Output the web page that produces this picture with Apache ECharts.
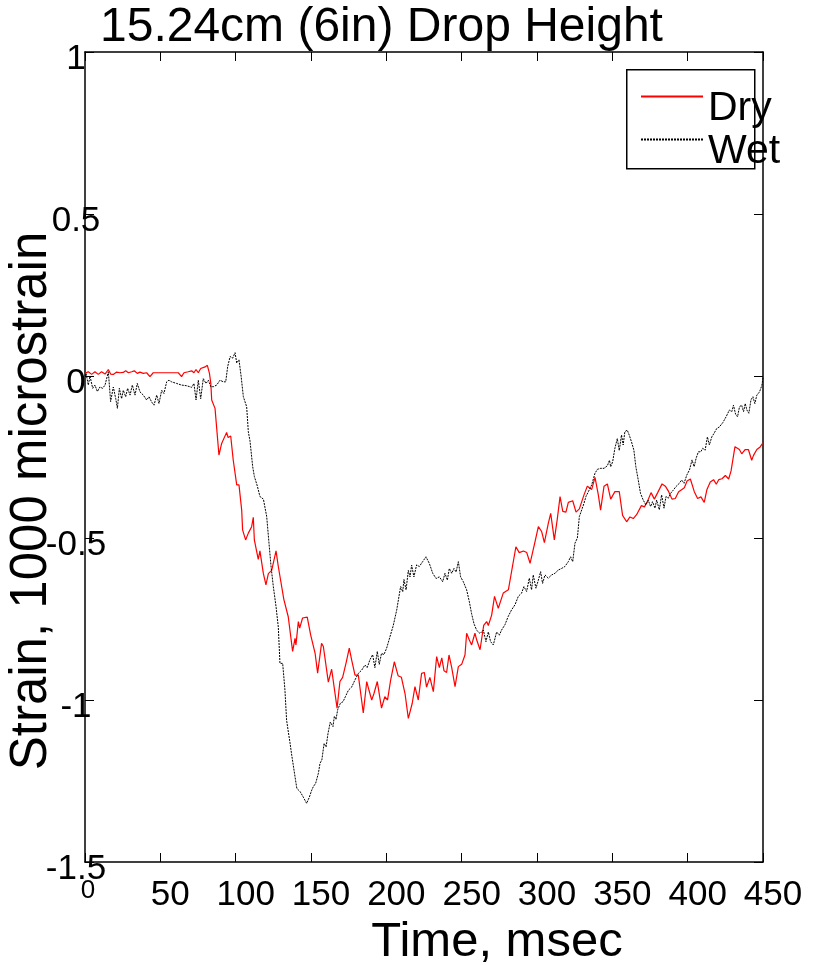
<!DOCTYPE html>
<html>
<head>
<meta charset="utf-8">
<script src="https://cdn.jsdelivr.net/npm/echarts@6/dist/echarts.min.js"></script>
<style>
  html, body { margin: 0; padding: 0; background: #fff; }
  #chart { width: 814px; height: 965px; }
</style>
</head>
<body>
<div id="chart"></div>
<script>
// Strain records (1000 microstrain) against time (msec) for the 15.24 cm drop.
const dryTime = [0, 2.2, 4.4, 6.6, 8.8, 11, 13.3, 15.5, 17, 18.8, 21, 23.2, 25.4, 27, 28.8, 31, 32.7, 34.7, 36.5, 38.7, 40.9, 43.1, 45.3, 49.8, 54.2, 58.6, 61.9, 64.1, 65.7, 68.5, 70.8, 72.3, 73.7, 75.2, 76.8, 78.1, 79.7, 81.2, 82.6, 83.5, 84.1, 86.3, 88.9, 90.7, 94, 95, 96.7, 98.4, 100.7, 102.2, 104, 104.6, 106.6, 108.4, 109.5, 110.6, 111.7, 112.4, 115, 116.1, 118.4, 120.1, 121.7, 123.9, 126.8, 128.3, 130, 132, 134.9, 137.8, 139.4, 140, 141.6, 142.5, 144.4, 147.5, 149.8, 152.7, 154.4, 157, 158.2, 161.5, 163.7, 167.3, 169.2, 171, 173.4, 175.4, 177, 179.2, 181.4, 184.7, 187, 188.5, 190.3, 191.8, 194, 196.8, 199, 200.8, 202.8, 205.3, 207.8, 210, 212.4, 214.6, 217.2, 219, 221.2, 223.4, 225.2, 226.7, 228.9, 231.2, 233.4, 235.2, 236.8, 238.3, 240, 241.6, 243.4, 245.6, 247.8, 250, 252.2, 253.3, 255.1, 256.6, 258.8, 260, 262.2, 264.6, 266.6, 267.7, 269.9, 271.8, 274.3, 277.6, 281, 286, 288.2, 291, 293.2, 295.4, 298.7, 300.9, 303.1, 304.9, 307.5, 309.1, 311.5, 313.5, 315.3, 317.1, 319.2, 320.8, 323.7, 325.9, 328.1, 331.2, 333.4, 336.3, 338.5, 340.7, 342.2, 344.5, 346.7, 348.9, 350.2, 351.7, 354.6, 356.8, 359.5, 361.7, 363.9, 366.1, 369.3, 371.3, 373.5, 375.7, 377.9, 380.1, 383, 385.2, 387.4, 389.6, 391.8, 394, 396.2, 397.8, 399.6, 401.8, 404.4, 406.6, 408.8, 411, 412.8, 415, 417.2, 419, 420.6, 422.8, 425, 427.2, 428.8, 431.4, 434.3, 435.9, 438.1, 440.3, 442.5, 443.7, 445.9, 448.1, 450];
const dryStrain = [0.008, 0.013, 0.005, 0.013, 0.005, 0.013, 0.006, 0.02, 0.006, 0.005, 0.012, 0.01, 0.011, 0.016, 0.01, 0.013, 0.016, 0.008, 0.012, 0.008, 0.01, -0.002, 0.01, 0.01, 0.01, 0.01, 0.01, -0.002, 0.01, 0.013, 0.016, 0.01, 0.02, 0.01, 0.023, 0.018, 0.028, 0.033, 0.008, -0.023, -0.074, -0.1, -0.244, -0.208, -0.174, -0.19, -0.185, -0.26, -0.336, -0.336, -0.414, -0.475, -0.506, -0.485, -0.49, -0.465, -0.436, -0.506, -0.566, -0.54, -0.61, -0.645, -0.61, -0.6, -0.54, -0.588, -0.635, -0.69, -0.743, -0.85, -0.81, -0.83, -0.758, -0.778, -0.747, -0.744, -0.8, -0.855, -0.917, -0.825, -0.835, -0.945, -0.905, -1.025, -0.943, -0.93, -0.883, -0.84, -0.877, -0.923, -0.923, -1.04, -0.943, -0.97, -1.0, -0.98, -0.943, -1.025, -0.99, -1.0, -0.94, -0.882, -0.925, -0.93, -0.98, -1.057, -1.01, -0.959, -1.0, -0.918, -0.915, -0.96, -0.93, -0.974, -0.866, -0.9, -0.87, -0.91, -0.915, -0.861, -0.9, -0.959, -0.897, -0.89, -0.861, -0.794, -0.815, -0.83, -0.794, -0.815, -0.845, -0.77, -0.758, -0.77, -0.738, -0.68, -0.717, -0.67, -0.66, -0.527, -0.545, -0.54, -0.545, -0.578, -0.511, -0.465, -0.48, -0.514, -0.455, -0.424, -0.506, -0.44, -0.372, -0.418, -0.42, -0.39, -0.385, -0.42, -0.41, -0.367, -0.34, -0.35, -0.313, -0.367, -0.414, -0.34, -0.333, -0.38, -0.38, -0.357, -0.357, -0.43, -0.45, -0.435, -0.44, -0.428, -0.4, -0.404, -0.385, -0.36, -0.38, -0.36, -0.333, -0.34, -0.357, -0.38, -0.378, -0.357, -0.35, -0.345, -0.324, -0.318, -0.357, -0.378, -0.373, -0.39, -0.35, -0.327, -0.32, -0.334, -0.32, -0.317, -0.307, -0.318, -0.293, -0.218, -0.227, -0.24, -0.227, -0.227, -0.26, -0.245, -0.227, -0.219, -0.206];

const wetTime = [0, 0.7, 2.2, 3.3, 5.1, 6.6, 8.2, 9.9, 11.7, 13.3, 15.5, 17, 18.8, 20.4, 21.5, 22.8, 24.3, 25.4, 27, 28.3, 29.9, 31.4, 33.2, 34.7, 36.5, 38.7, 40.9, 42.5, 44.2, 45.8, 47.6, 49.1, 50.9, 52.4, 54.2, 55.7, 57.5, 60.8, 64.1, 67.4, 70.8, 72.3, 73.7, 75.2, 76.8, 78.5, 80.3, 81.9, 83.5, 85.2, 87.4, 89.6, 91.8, 93.4, 94.7, 96.3, 98, 99.6, 100.7, 102.2, 103.6, 105.1, 107.3, 108.4, 109.5, 111.3, 112.4, 114.4, 116.1, 118.4, 120.6, 122.1, 123.5, 125, 126.8, 128.3, 129.4, 131.2, 132.7, 133.8, 135, 136, 137.2, 139.4, 140.6, 142.8, 144.9, 147.1, 148.9, 150.5, 151.6, 153.1, 154.9, 156, 157.2, 158.7, 160, 161.3, 162.8, 164.6, 165.5, 166.6, 167.7, 169.5, 171.3, 172.8, 174.8, 177, 179.2, 181.4, 183.6, 185.8, 187.3, 189.1, 190.9, 192.4, 194, 195.3, 196.8, 198.4, 200.2, 202.4, 204.6, 206.9, 208.4, 209.5, 210.9, 211.7, 213.1, 214.6, 215.7, 216.8, 218.3, 220.1, 221.9, 224.1, 226.3, 228.5, 230.8, 233, 235.2, 237.4, 238.9, 240.5, 241.8, 243.4, 244.9, 246.3, 247.8, 249.3, 251.1, 253.3, 255.1, 256.6, 258.2, 260, 262.2, 264.4, 266.1, 267.7, 269.2, 271, 273.2, 275, 276.5, 278.7, 280.9, 283.1, 285.4, 287.6, 289.8, 291.3, 293.1, 294.9, 296.4, 297.5, 299.3, 300.9, 302.4, 303.7, 305.3, 307.5, 309.7, 311.9, 314.1, 316.3, 318.5, 320.8, 322.3, 323.7, 325.2, 326.8, 328.1, 329.7, 331.2, 332.5, 334.1, 336.3, 338.5, 340.1, 342.3, 344.5, 346.7, 348.1, 348.9, 350.2, 351.7, 353.3, 354.6, 356.1, 357.2, 358.3, 359.9, 361.2, 362.7, 364.3, 365.6, 367.2, 368.7, 370.5, 372.3, 373.8, 375.4, 376.7, 378.3, 379.4, 381.2, 382.7, 384.3, 385.6, 387.2, 388.7, 390.5, 392.3, 394.5, 396, 397.6, 399.4, 401.2, 402.9, 404.3, 405.6, 407.1, 408.7, 410, 411.6, 413.1, 414.4, 416, 417.5, 419.3, 421.1, 423.3, 425.5, 427.7, 429.3, 430.4, 431.8, 433.1, 434.4, 435.8, 437.1, 438.2, 439.3, 440.6, 442, 443.3, 444.6, 445.9, 447.7, 449.3, 450];
const wetStrain = [0, 0.008, -0.028, 0, -0.038, -0.028, -0.048, -0.034, -0.038, -0.028, 0.013, -0.079, -0.034, -0.07, -0.1, -0.038, -0.07, -0.044, -0.064, -0.038, -0.059, -0.028, -0.059, -0.023, -0.049, -0.059, -0.074, -0.064, -0.08, -0.09, -0.059, -0.085, -0.044, -0.054, -0.018, -0.013, -0.018, -0.023, -0.028, -0.03, -0.035, -0.023, -0.074, -0.013, -0.07, -0.008, -0.023, -0.013, -0.033, -0.033, -0.028, -0.013, -0.018, -0.018, 0.029, 0.06, 0.055, 0.072, 0.04, 0.05, 0.0, -0.064, -0.095, -0.172, -0.2, -0.28, -0.31, -0.34, -0.372, -0.38, -0.434, -0.515, -0.589, -0.65, -0.712, -0.775, -0.887, -0.887, -0.969, -1.062, -1.1, -1.13, -1.17, -1.237, -1.273, -1.283, -1.3, -1.319, -1.3, -1.278, -1.267, -1.257, -1.226, -1.195, -1.185, -1.134, -1.145, -1.103, -1.068, -1.082, -1.05, -1.06, -1.03, -1.01, -1.005, -0.99, -0.97, -0.96, -0.938, -0.918, -0.908, -0.892, -0.9, -0.876, -0.86, -0.9, -0.85, -0.89, -0.856, -0.86, -0.84, -0.805, -0.77, -0.722, -0.68, -0.65, -0.666, -0.628, -0.66, -0.6, -0.62, -0.584, -0.62, -0.583, -0.588, -0.573, -0.558, -0.578, -0.609, -0.625, -0.62, -0.635, -0.609, -0.63, -0.594, -0.609, -0.594, -0.605, -0.573, -0.62, -0.635, -0.66, -0.697, -0.734, -0.765, -0.785, -0.795, -0.784, -0.82, -0.79, -0.82, -0.83, -0.79, -0.8, -0.784, -0.768, -0.742, -0.722, -0.706, -0.68, -0.67, -0.65, -0.665, -0.624, -0.66, -0.614, -0.655, -0.63, -0.604, -0.64, -0.614, -0.624, -0.614, -0.609, -0.599, -0.594, -0.588, -0.573, -0.558, -0.573, -0.516, -0.5, -0.434, -0.413, -0.393, -0.372, -0.357, -0.336, -0.3, -0.288, -0.285, -0.285, -0.277, -0.26, -0.28, -0.265, -0.223, -0.193, -0.23, -0.182, -0.213, -0.172, -0.167, -0.182, -0.203, -0.229, -0.28, -0.321, -0.362, -0.383, -0.398, -0.383, -0.403, -0.388, -0.408, -0.383, -0.413, -0.367, -0.408, -0.372, -0.377, -0.362, -0.352, -0.341, -0.331, -0.321, -0.331, -0.306, -0.29, -0.259, -0.28, -0.254, -0.234, -0.234, -0.223, -0.229, -0.188, -0.213, -0.188, -0.177, -0.162, -0.157, -0.144, -0.126, -0.105, -0.11, -0.09, -0.118, -0.126, -0.095, -0.09, -0.11, -0.085, -0.105, -0.115, -0.074, -0.064, -0.085, -0.059, -0.049, -0.028, -0.005];

const xTicks = { min: 0, max: 450, interval: 50 };
const yTicks = { min: -1.5, max: 1, interval: 0.5 };

const FONT = "'Liberation Sans', Arial, Helvetica, sans-serif";

function pairs(xs, ys) {
  return xs.map((x, i) => [x, ys[i]]);
}

const chart = echarts.init(document.getElementById('chart'), null, { renderer: 'canvas' });

// Box frame: axis lines on all four sides, never snapped to zero.
const frameLine = { show: true, onZero: false, lineStyle: { color: '#000', width: 1.5 } };
const innerTick = { show: true, inside: true, length: 9, lineStyle: { color: '#000', width: 1 } };

chart.setOption({
  animation: false,
  backgroundColor: '#fff',
  textStyle: { fontFamily: FONT, color: '#000' },
  title: {
    text: '15.24cm (6in) Drop Height',
    left: 100,
    top: 4,
    padding: 0,
    textStyle: { fontFamily: FONT, fontSize: 48, fontWeight: 'normal', color: '#000' }
  },
  grid: {
    left: 85, right: 51, top: 52, bottom: 103,
    containLabel: false,
    outerBoundsMode: 'none'
  },
  legend: {
    orient: 'vertical',
    left: 640,
    top: 88,
    padding: 0,
    itemWidth: 62,
    itemHeight: 10,
    itemGap: 2,
    itemStyle: { color: 'rgba(0,0,0,0)', borderWidth: 0, opacity: 0 },
    // rich label so the top padding lowers the text against its key line
    formatter: name => '{t|' + name + '}',
    textStyle: {
      fontFamily: FONT, fontSize: 41, color: '#000',
      padding: [24, 0, 0, 0],
      rich: { t: { fontFamily: FONT, fontSize: 41, color: '#000', lineHeight: 22 } }
    },
    data: ['Dry', 'Wet']
  },
  graphic: [{
    type: 'rect',
    left: 626,
    top: 69,
    z: -1,
    shape: { width: 128, height: 99 },
    style: { fill: '#fff', stroke: '#000', lineWidth: 1.5 }
  }],
  xAxis: [{
    type: 'value',
    position: 'bottom',
    min: xTicks.min, max: xTicks.max, interval: xTicks.interval,
    axisLine: frameLine,
    axisTick: innerTick,
    splitLine: { show: false },
    axisLabel: {
      margin: 16,
      color: '#000',
      fontFamily: FONT,
      fontSize: 35,
      formatter: v => (v === 0 ? '{z|0}' : '{n|' + v + '}'),
      rich: {
        n: { fontFamily: FONT, fontSize: 35, color: '#000', padding: [0, 0, 0, 20] },
        z: { fontFamily: FONT, fontSize: 26, color: '#000', padding: [0, 0, 0, 6] }
      }
    },
    name: 'Time, msec',
    nameLocation: 'middle',
    nameGap: 56,
    nameMoveOverlap: false,
    nameTextStyle: { fontFamily: FONT, fontSize: 49, color: '#000', padding: [0, 0, 0, 146] }
  }, {
    type: 'value',
    position: 'top',
    min: xTicks.min, max: xTicks.max, interval: xTicks.interval,
    axisLine: frameLine,
    axisTick: innerTick,
    axisLabel: { show: false },
    splitLine: { show: false }
  }],
  yAxis: [{
    type: 'value',
    position: 'left',
    min: yTicks.min, max: yTicks.max, interval: yTicks.interval,
    axisLine: frameLine,
    axisTick: innerTick,
    splitLine: { show: false },
    axisLabel: {
      margin: 9,
      align: 'center',
      color: '#000',
      fontFamily: FONT,
      fontSize: 35,
      padding: [14, 0, 0, 0],
      formatter: v => '{v|' + v + '}',
      rich: { v: { fontFamily: FONT, fontSize: 35, color: '#000' } }
    },
    name: 'Strain, 1000 microstrain',
    nameLocation: 'middle',
    nameGap: 28,
    nameRotate: 90,
    nameMoveOverlap: false,
    nameTextStyle: { fontFamily: FONT, fontSize: 51, color: '#000', padding: [0, 88, 0, 0] }
  }, {
    type: 'value',
    position: 'right',
    min: yTicks.min, max: yTicks.max, interval: yTicks.interval,
    axisLine: frameLine,
    axisTick: innerTick,
    axisLabel: { show: false },
    splitLine: { show: false }
  }],
  series: [{
    name: 'Dry',
    type: 'line',
    xAxisIndex: 0,
    yAxisIndex: 0,
    showSymbol: false,
    symbol: 'none',
    color: '#ff0000',
    lineStyle: { color: '#ff0000', width: 1.2 },
    data: pairs(dryTime, dryStrain)
  }, {
    name: 'Wet',
    type: 'line',
    xAxisIndex: 0,
    yAxisIndex: 0,
    showSymbol: false,
    symbol: 'none',
    color: '#000',
    lineStyle: { color: '#000', width: 1, type: [2, 1] },
    data: pairs(wetTime, wetStrain)
  }]
});
</script>
</body>
</html>
